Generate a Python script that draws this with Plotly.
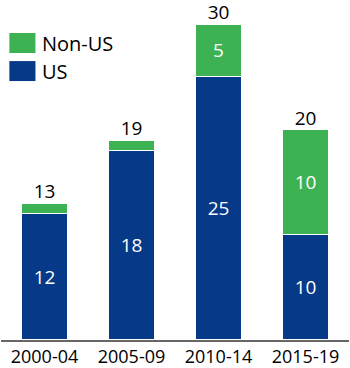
import plotly.graph_objects as go

categories = ["2000-04", "2005-09", "2010-14", "2015-19"]
us = [12, 18, 25, 10]
non_us = [1, 1, 5, 10]
totals = [u + n for u, n in zip(us, non_us)]

BLUE = "#063a88"
GREEN = "#3db253"
FONT = "Open Sans"

fig = go.Figure()
fig.add_trace(go.Bar(
    x=categories, y=us, name="US", marker=dict(color=BLUE, line=dict(color="white", width=1.5)),
    text=[str(v) for v in us], textposition="inside", insidetextanchor="middle",
    textfont=dict(color="white", size=19, family=FONT), hoverinfo="skip",
))
fig.add_trace(go.Bar(
    x=categories, y=non_us, name="Non-US", marker=dict(color=GREEN, line=dict(color="white", width=1.5)),
    text=[str(v) if v >= 3 else "" for v in non_us], textposition="inside", insidetextanchor="middle",
    textfont=dict(color="white", size=19, family=FONT), hoverinfo="skip",
))
fig.add_trace(go.Scatter(
    x=categories, y=totals, mode="text", text=[str(t) for t in totals],
    textposition="top center", textfont=dict(color="black", size=19, family=FONT),
    hoverinfo="skip", showlegend=False,
))

# custom legend
legend_items = [("Non-US", GREEN, 0.8735), ("US", BLUE, 0.791)]
for name, color, yc in legend_items:
    fig.add_shape(type="rect", xref="paper", yref="paper",
                  x0=0.024, x1=0.099, y0=yc - 0.0294, y1=yc + 0.0294,
                  fillcolor=color, line=dict(width=0))
    fig.add_annotation(xref="paper", yref="paper", x=0.112, y=yc, text=name,
                       showarrow=False, xanchor="left", yanchor="middle",
                       font=dict(size=20, color="black", family=FONT))

fig.update_layout(
    barmode="stack", bargap=0.46, showlegend=False,
    width=350, height=368, margin=dict(l=1, r=1, t=0, b=28, autoexpand=False),
    plot_bgcolor="white", paper_bgcolor="white",
    font=dict(family=FONT, size=18, color="black"),
    uniformtext=dict(mode=False),
)
fig.update_xaxes(type="category", showline=True, linecolor="#666666", linewidth=1.5, ticks="",
                 automargin=False, ticklabelstandoff=0,
                 tickfont=dict(size=18, color="black", family=FONT), showgrid=False)
fig.update_yaxes(visible=False, range=[0, 32.28], showgrid=False, automargin=False)

fig.write_html("out.html")
